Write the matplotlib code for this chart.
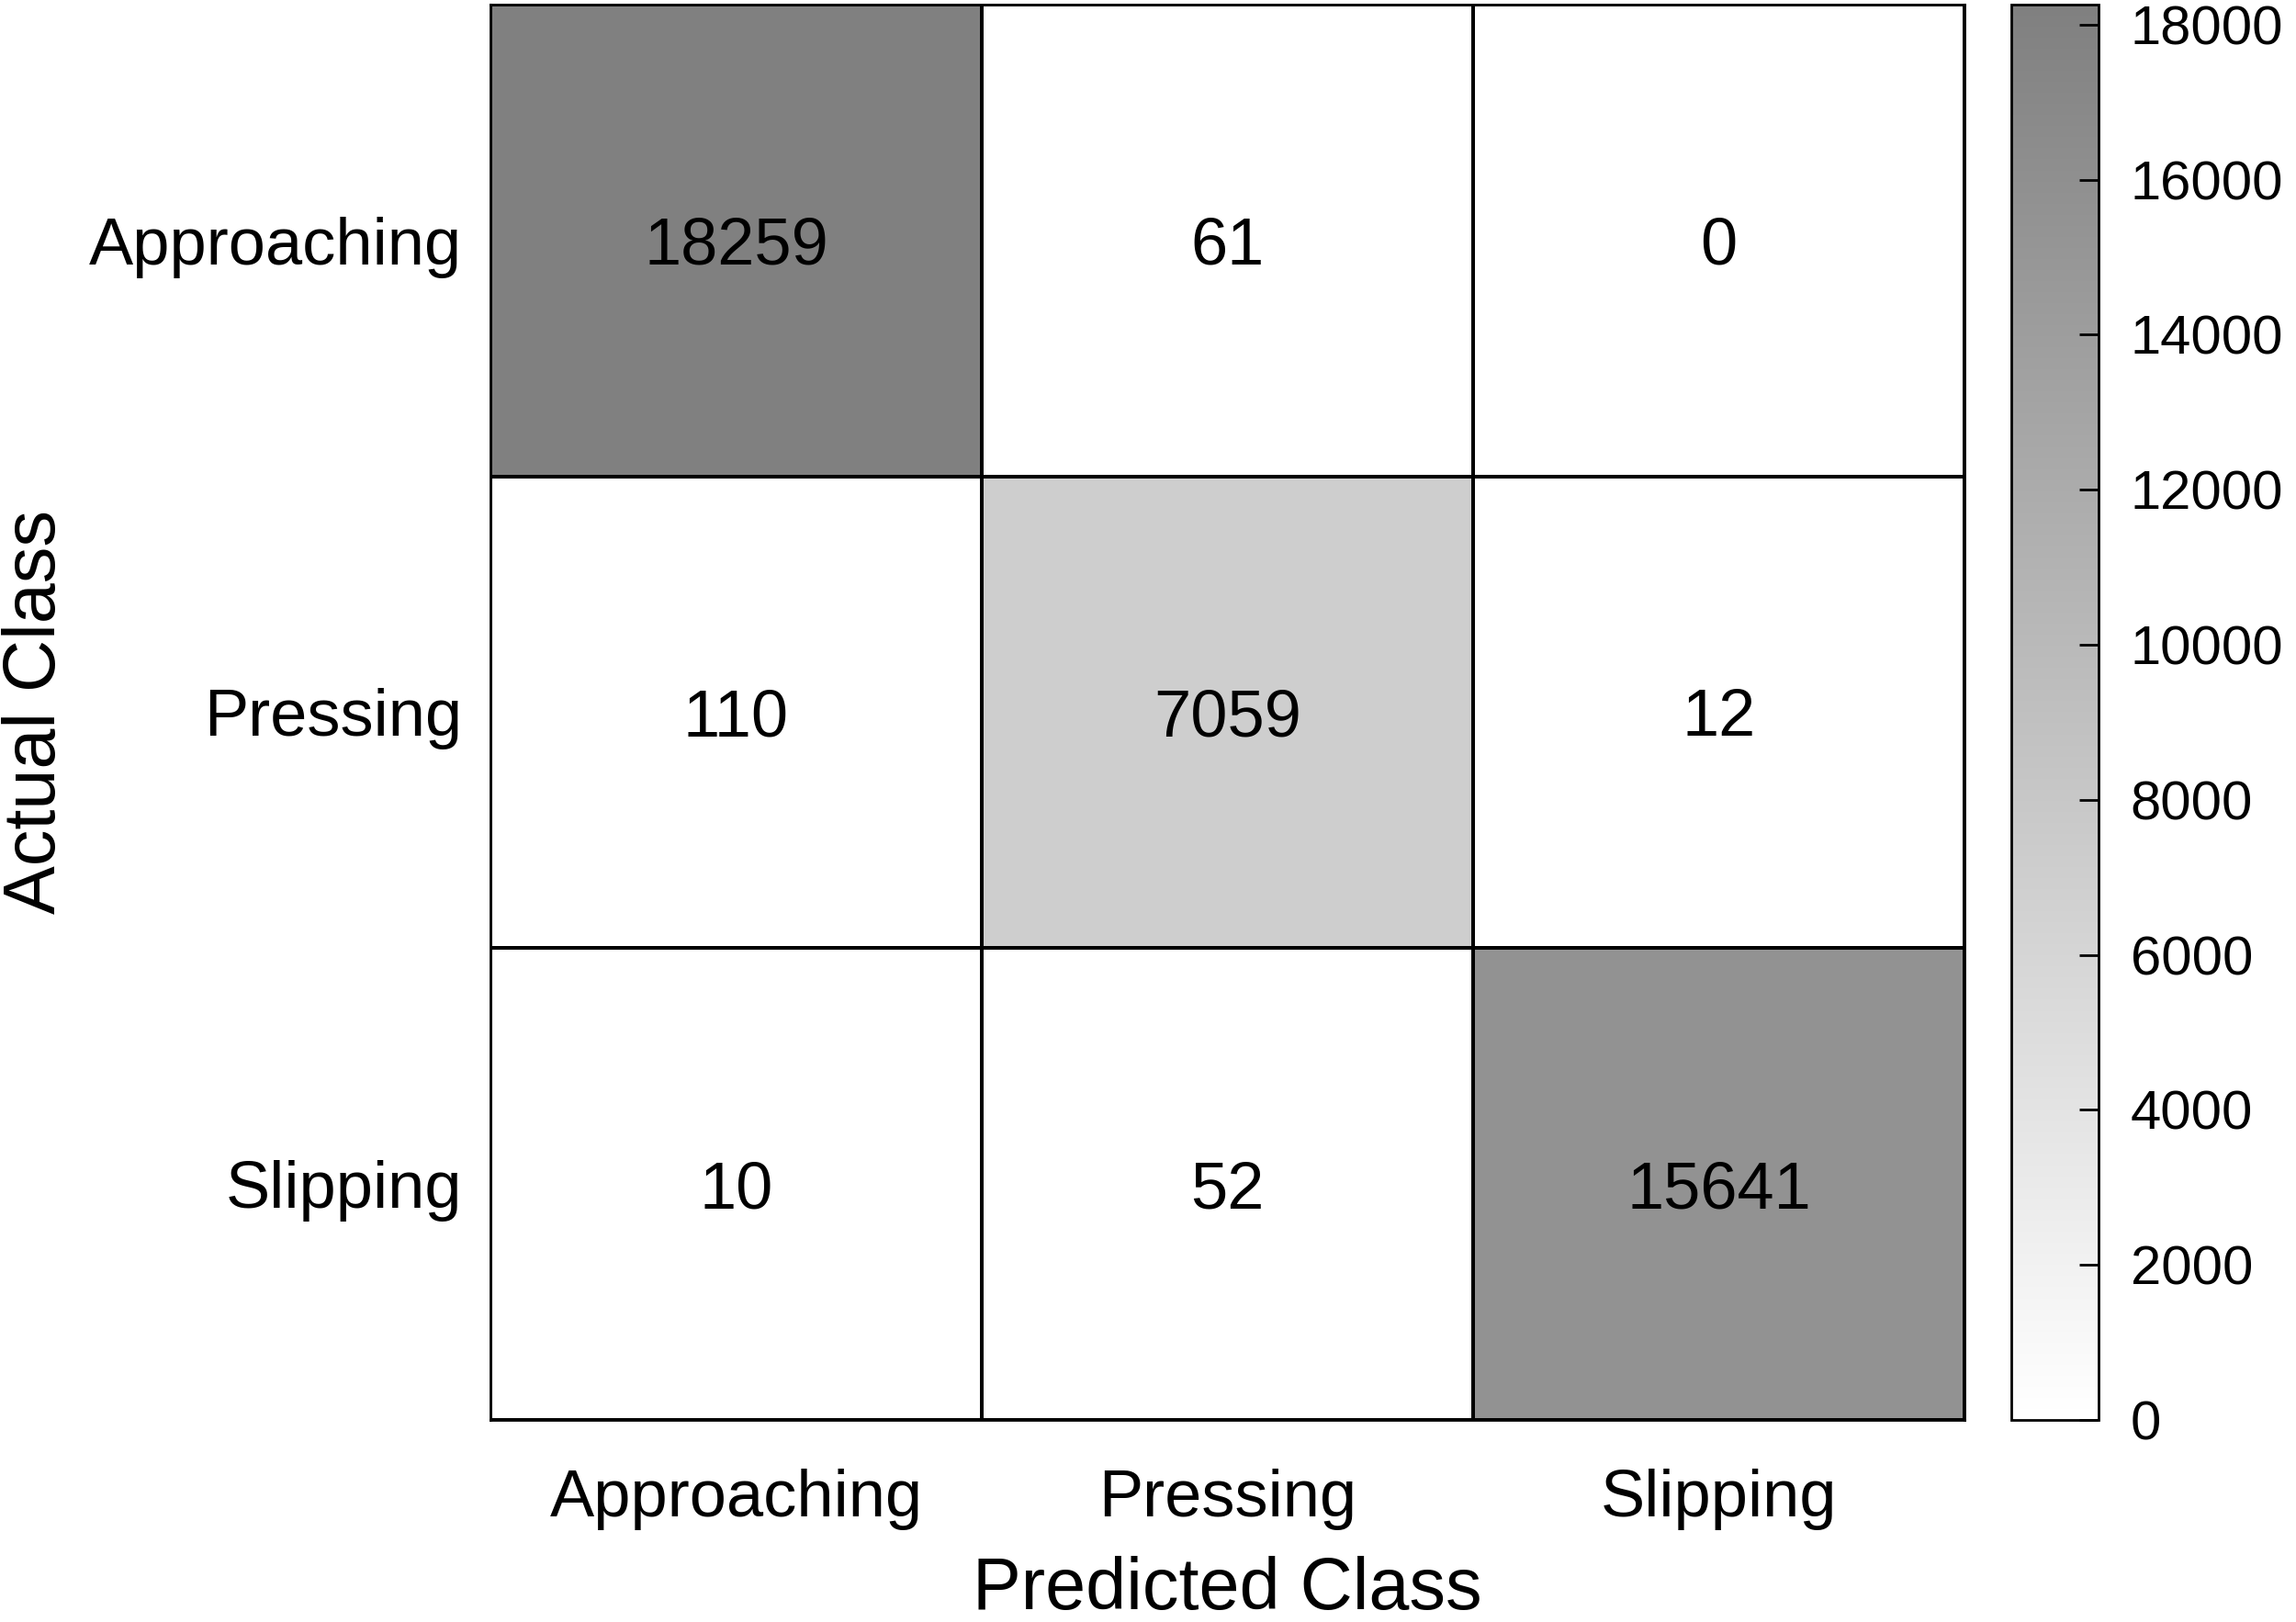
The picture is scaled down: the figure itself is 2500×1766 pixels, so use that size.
#!/usr/bin/env python3

import matplotlib
import numpy as np

matplotlib.use("Agg")
import matplotlib.pyplot as plt
from matplotlib.colors import LinearSegmentedColormap, Normalize

classes = ["Approaching", "Pressing", "Slipping"]
counts = [
    [18259, 61, 0],
    [110, 7059, 12],
    [10, 52, 15641],
]
cbar_ticks = [0, 2000, 4000, 6000, 8000, 10000, 12000, 14000, 16000, 18000]


def main() -> int:
    plt.rcParams["font.family"] = ["Liberation Sans", "DejaVu Sans"]
    cm = np.array(counts, dtype=float)
    cmap = LinearSegmentedColormap.from_list("wg", ["#ffffff", "#808080"])
    norm = Normalize(vmin=0, vmax=cm.max())

    fig = plt.figure(figsize=(25, 17.66), dpi=100)
    ax = fig.add_axes([0.2136, 0.1246, 0.6420, 0.8726])
    cax = fig.add_axes([0.876, 0.1246, 0.038, 0.8726])

    mesh = ax.pcolormesh(cm, cmap=cmap, norm=norm, edgecolors="black", linewidth=1.5)
    ax.set_xlim(0, 3)
    ax.set_ylim(3, 0)
    for i in range(3):
        for j in range(3):
            ax.text(j + 0.5, i + 0.5, f"{counts[i][j]}", ha="center", va="center_baseline",
                    fontsize=52, color="black")

    ax.set_xticks(np.arange(3) + 0.5)
    ax.set_yticks(np.arange(3) + 0.5)
    ax.set_xticklabels(classes, fontsize=52)
    ax.set_yticklabels(classes, fontsize=52, va="center_baseline")
    ax.tick_params(axis="x", length=0, pad=38)
    ax.tick_params(axis="y", length=0, pad=22)
    ax.set_xlabel("Predicted Class", fontsize=57, labelpad=20)
    ax.set_ylabel("Actual Class", fontsize=57)
    ax.yaxis.set_label_coords(-0.285, 0.5)
    for s in ax.spines.values():
        s.set_linewidth(2)

    cb = fig.colorbar(mesh, cax=cax, ticks=cbar_ticks)
    cb.outline.set_linewidth(2)
    cax.tick_params(direction="in", length=15, width=2, labelsize=43, pad=25)

    fig.savefig("out.png", dpi=100)
    plt.close(fig)
    return 0


if __name__ == "__main__":
    raise SystemExit(main())
